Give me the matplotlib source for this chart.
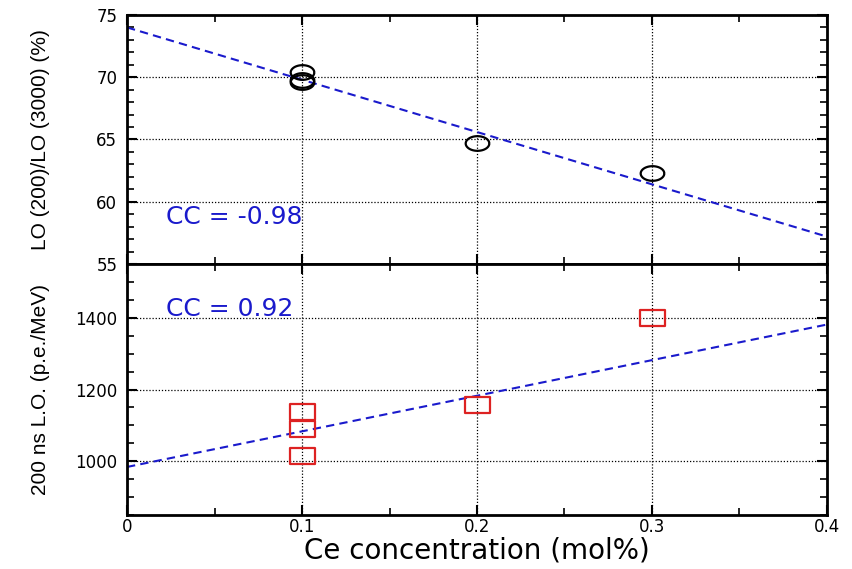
import matplotlib
matplotlib.use("Agg")
import matplotlib.pyplot as plt
import numpy as np
from matplotlib.path import Path
from matplotlib.ticker import MultipleLocator

plt.rcParams["font.family"] = ["Liberation Sans", "DejaVu Sans"]

# Ce concentration (mol%) of the samples
ce_conc = [0.1, 0.1, 0.1, 0.2, 0.3]

# LO(200 ns)/LO(3000 ns) ratio in %
lo_ratio = [70.4, 69.8, 69.6, 64.7, 62.3]
# 200 ns light output (p.e./MeV)
lo_200ns = [1137, 1090, 1014, 1156, 1399]

# linear fits: intercept, slope (per mol%)
fit_ratio = (74.0, -42.0)
fit_lo = (984.0, 993.0)
cc_ratio = "CC = -0.98"
cc_lo = "CC = 0.92"

x_fit = np.array([0.0, 0.4])

# slightly flattened markers (wider than tall)
t = np.linspace(0, 2 * np.pi, 64)
ellipse = Path(np.column_stack([0.5 * np.cos(t), 0.31 * np.sin(t)]))
rect = Path([(-0.5, -0.31), (0.5, -0.31), (0.5, 0.31), (-0.5, 0.31), (-0.5, -0.31)],
            [Path.MOVETO, Path.LINETO, Path.LINETO, Path.LINETO, Path.CLOSEPOLY])

fig = plt.figure(figsize=(8.53, 5.69), dpi=100)
ax1 = fig.add_axes([0.1489, 0.536, 0.8206, 0.4377])
ax2 = fig.add_axes([0.1489, 0.0949, 0.8206, 0.4411])

blue = "#1a1acc"
wide_font = "DejaVu Sans"


def style_axis(ax, ymaj, ymin):
    ax.set_xlim(0, 0.4)
    ax.xaxis.set_major_locator(MultipleLocator(0.1))
    ax.xaxis.set_minor_locator(MultipleLocator(0.05))
    ax.yaxis.set_major_locator(MultipleLocator(ymaj))
    ax.yaxis.set_minor_locator(MultipleLocator(ymin))
    ax.tick_params(which="both", direction="in", top=True, right=True,
                   labelsize=12)
    ax.tick_params(axis="y", pad=7)
    ax.tick_params(axis="x", pad=2)
    ax.tick_params(which="major", length=7, width=1.5)
    ax.tick_params(which="minor", length=5, width=1.2)
    ax.grid(True, which="major", color="black", linestyle=(0, (1, 1.5)),
            linewidth=0.9)
    for s in ax.spines.values():
        s.set_linewidth(2)
        s.set_zorder(5)


# top panel: ratio
ax1.set_ylim(55, 75)
style_axis(ax1, 5, 1)
ax1.plot(x_fit, fit_ratio[0] + fit_ratio[1] * x_fit, color=blue,
         linestyle=(0, (4, 2.5)), linewidth=1.5, zorder=3)
ax1.plot(ce_conc, lo_ratio, linestyle="none", marker=ellipse, markersize=17,
         markerfacecolor="none", markeredgecolor="black", markeredgewidth=1.6,
         zorder=4)
ax1.tick_params(labelbottom=False)
ax1.set_yticks([55, 60, 65, 70, 75])
ax1.set_yticklabels(["55", "60", "65", "70", "75"], family=wide_font)
ax1.set_ylabel("LO (200)/LO (3000) (%)", fontsize=15)
ax1.yaxis.set_label_coords(-0.124, 0.5)
ax1.yaxis.label.set_va("center")
ax1.text(0.022, 58.8, cc_ratio, color=blue, fontsize=18, va="center",
         family=wide_font)

# bottom panel: 200 ns light output
ax2.set_ylim(850, 1550)
style_axis(ax2, 200, 50)
ax2.plot(x_fit, fit_lo[0] + fit_lo[1] * x_fit, color=blue,
         linestyle=(0, (4, 2.5)), linewidth=1.5, zorder=3)
ax2.plot(ce_conc, lo_200ns, linestyle="none", marker=rect, markersize=18,
         markerfacecolor="none", markeredgecolor="#dd2222", markeredgewidth=1.6,
         zorder=4)
ax2.set_yticks([1000, 1200, 1400])
ax2.set_yticklabels(["1000", "1200", "1400"], family=wide_font)
ax2.set_xticks([0, 0.1, 0.2, 0.3, 0.4])
ax2.set_xticklabels(["0", "0.1", "0.2", "0.3", "0.4"], family=wide_font)
ax2.set_ylabel("200 ns L.O. (p.e./MeV)", fontsize=15)
ax2.yaxis.set_label_coords(-0.124, 0.5)
ax2.yaxis.label.set_va("center")
ax2.set_xlabel("Ce concentration (mol%)", fontsize=20, family=wide_font)
ax2.xaxis.set_label_coords(0.5, -0.14)
ax2.xaxis.label.set_va("center")
ax2.text(0.022, 1425, cc_lo, color=blue, fontsize=18, va="center",
         family=wide_font)

fig.savefig("out.png", dpi=100)
